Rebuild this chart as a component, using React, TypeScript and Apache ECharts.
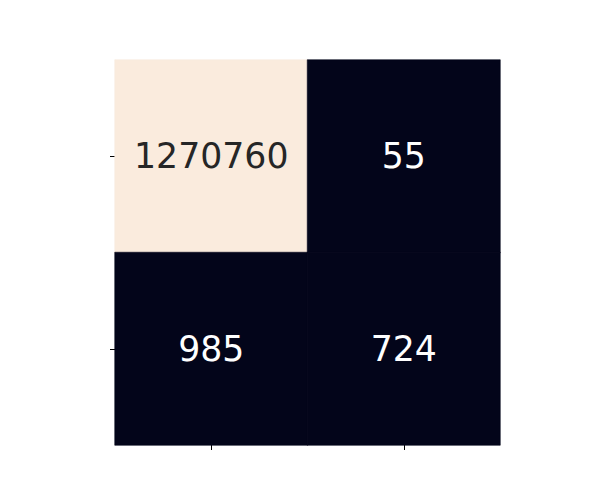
import React, { useEffect, useRef } from "react";
import * as echarts from "echarts";

const xCategories = ["0", "1"];
const yCategories = ["0", "1"];
// [row, col, value]
const cellValues: number[][] = [
  [0, 0, 1270760],
  [0, 1, 55],
  [1, 0, 985],
  [1, 1, 724],
];
const rocketColors = [
  "#03051A", "#2B1A3A", "#5A1E4F", "#8A1F55", "#BA1E4E",
  "#E13342", "#F06043", "#F58860", "#F6B48E", "#FAEBDD",
];

export default function App() {
  const ref = useRef<HTMLDivElement>(null);
  useEffect(() => {
    if (!ref.current) return;
    const chart = echarts.init(ref.current, null, { renderer: "svg" });
    const vals = cellValues.map((c) => c[2]);
    const vmin = Math.min(...vals);
    const vmax = Math.max(...vals);
    const mid = (vmin + vmax) / 2;
    chart.setOption({
      animation: false,
      backgroundColor: "#ffffff",
      grid: { left: 115, top: 60, width: 385, height: 385 },
      xAxis: {
        type: "category",
        data: xCategories,
        axisLine: { show: false },
        axisTick: { show: true, alignWithLabel: true, length: 5, lineStyle: { color: "#000", width: 1 } },
        axisLabel: { show: false },
        splitLine: { show: false },
      },
      yAxis: {
        type: "category",
        data: yCategories,
        inverse: true,
        axisLine: { show: false },
        axisTick: { show: true, alignWithLabel: true, length: 5, lineStyle: { color: "#000", width: 1 } },
        axisLabel: { show: false },
        splitLine: { show: false },
      },
      visualMap: {
        show: false,
        min: vmin,
        max: vmax,
        inRange: { color: rocketColors },
      },
      series: [
        {
          type: "heatmap",
          data: cellValues.map(([r, c, v]) => ({
            value: [c, r, v],
            itemStyle: {
              borderWidth: 0.6,
              borderColor: echarts.color.lerp((v - vmin) / (vmax - vmin), rocketColors),
            },
            label: { color: v > mid ? "#262626" : "#ffffff" },
          })),
          label: {
            show: true,
            fontSize: 34.7,
            fontFamily: "DejaVu Sans",
            formatter: (p: any) => String(p.value[2]),
          },
          emphasis: { disabled: true },
        },
      ],
    });
    return () => chart.dispose();
  }, []);
  return (
    <div
      ref={ref}
      style={{ position: "fixed", left: 0, top: 0, width: 600, height: 500 }}
    />
  );
}
